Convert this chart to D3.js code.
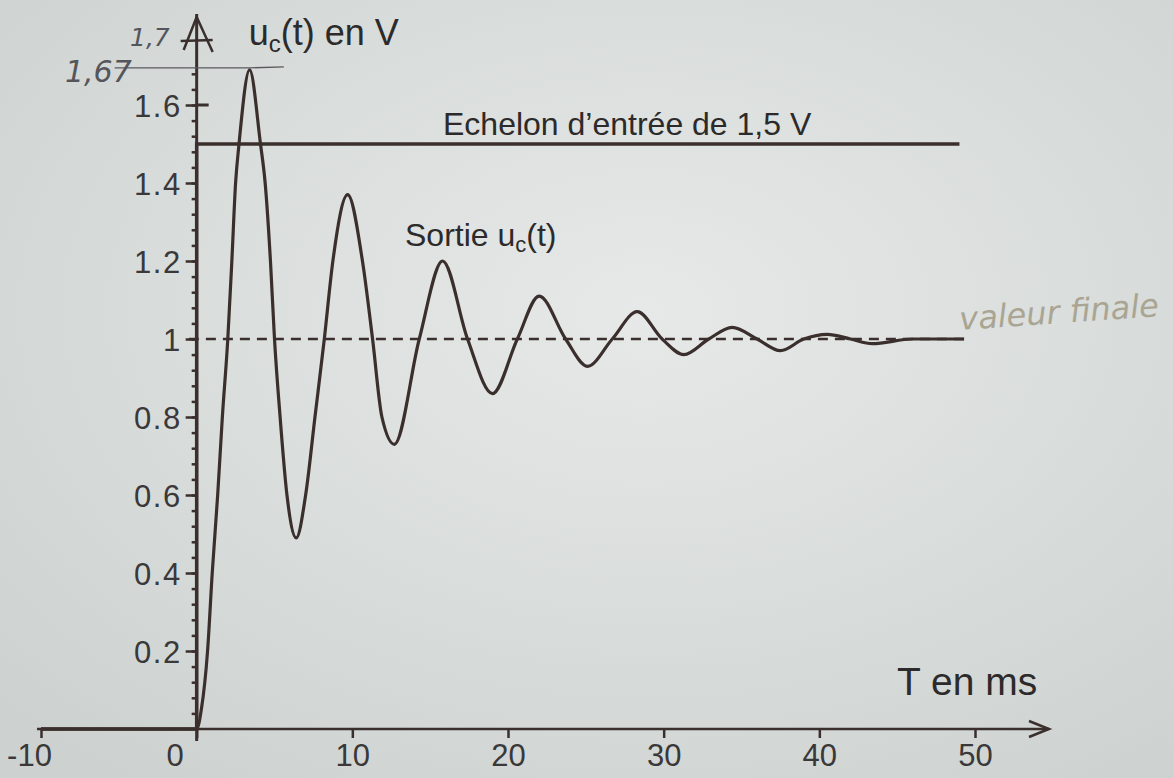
<!DOCTYPE html>
<html>
<head>
<meta charset="utf-8">
<script src="https://cdn.jsdelivr.net/npm/d3@7/dist/d3.min.js"></script>
<style>
  html, body { margin: 0; padding: 0; background: #d9dddc; }
  svg { display: block; }
  .tick text { font-family: "Liberation Sans Narrow", "Liberation Sans", Arial, sans-serif; fill: #3a3838; }
  .lbl { font-family: "Liberation Sans", Arial, sans-serif; fill: #2c2a2a; }
  .hand { font-family: "DejaVu Sans", sans-serif; font-style: italic; }
</style>
</head>
<body>
<svg id="chart" width="1173" height="778"></svg>
<script>
// time axis (ms)
const xTicks = [-10, 0, 10, 20, 30, 40, 50]
const xTickLabels = ["-10", "0", "10", "20", "30", "40", "50"]
// voltage axis (V)
const yMajor = [0.2, 0.4, 0.6, 0.8, 1, 1.2, 1.4, 1.6]
const yMajorLabels = ["0.2", "0.4", "0.6", "0.8", "1", "1.2", "1.4", "1.6"]
const yMinor = d3.range(1, 43).map(i => +(i * 0.04).toFixed(2))

// output uc(t)
const tValues = [-10, 0, 0.3, 0.7, 1.0, 1.35, 1.65, 2.0, 2.26, 2.5, 2.72, 3.4, 4.1, 4.4, 4.74, 5.0, 5.36, 5.8, 6.4, 7.0, 7.6, 8.2, 8.75, 9.7, 10.65, 11.3, 11.9, 12.7, 14.3, 15.8, 17.4, 19.0, 20.6, 22.0, 23.7, 25.1, 26.7, 28.3, 29.9, 31.3, 32.9, 34.4, 36.0, 37.5, 39.0, 40.5, 42.0, 43.4, 46.0, 49.3]
const uValues = [0, 0, 0.05, 0.2, 0.4, 0.6, 0.8, 1.0, 1.2, 1.4, 1.5, 1.69, 1.5, 1.4, 1.2, 1.0, 0.8, 0.6, 0.49, 0.6, 0.8, 1.0, 1.2, 1.37, 1.2, 1.0, 0.8, 0.73, 1.0, 1.2, 1.0, 0.86, 1.0, 1.11, 1.0, 0.93, 1.0, 1.07, 1.0, 0.96, 1.0, 1.03, 1.0, 0.97, 1.0, 1.012, 1.0, 0.988, 1.0, 1.0]

// input step of 1.5 V and final value
const stepT = [-10, 0, 0, 49]
const stepU = [0, 0, 1.5, 1.5]
const finalT = [-0.5, 49.5]
const finalU = [1, 1]
const peakValue = 1.69

const ink = "#3a2f2d"
const svg = d3.select("#chart")

// paper background
const defs = svg.append("defs")
const grad = defs.append("radialGradient").attr("id", "paper")
    .attr("cx", "55%").attr("cy", "40%").attr("r", "75%")
grad.append("stop").attr("offset", "0%").attr("stop-color", "#e6e9e8")
grad.append("stop").attr("offset", "100%").attr("stop-color", "#cdd2d1")
svg.append("rect").attr("width", 1173).attr("height", 778).attr("fill", "url(#paper)")

const x = d3.scaleLinear().domain([-10, 50]).range([41, 975])
const y = d3.scaleLinear().domain([0, 1.7]).range([729, 66])

// y axis ticks
const yMinorAxis = svg.append("g")
    .attr("transform", `translate(${x(0)},0)`)
    .call(d3.axisLeft(y).tickValues(yMinor).tickSize(5).tickFormat(""))
yMinorAxis.select(".domain").remove()
yMinorAxis.selectAll("line").attr("stroke", ink).attr("stroke-width", 2.5)

const yAxis = svg.append("g")
    .attr("transform", `translate(${x(0)},0)`)
    .call(d3.axisLeft(y).tickValues(yMajor).tickSize(11).tickPadding(4)
        .tickFormat((d, i) => yMajorLabels[i]))
yAxis.select(".domain").remove()
yAxis.selectAll("line").attr("stroke", ink).attr("stroke-width", 2.5)
yAxis.selectAll("text").attr("font-size", 31).attr("dy", "0.36em").attr("letter-spacing", 1.5)

// x axis ticks
const xAxis = svg.append("g")
    .attr("transform", `translate(0,${y(0)})`)
    .call(d3.axisBottom(x).tickValues(xTicks).tickSize(9).tickPadding(6)
        .tickFormat((d, i) => xTickLabels[i]))
xAxis.select(".domain").remove()
xAxis.selectAll("line").attr("stroke", ink).attr("stroke-width", 2.5)
xAxis.selectAll("text").attr("font-size", 31)
    .attr("dx", d => d === 0 ? -22 : (d === -10 ? -12 : 0))

// axis lines with arrows
const yTop = y(1.7) - 52
svg.append("line")
    .attr("x1", x(0)).attr("x2", x(0))
    .attr("y1", y(0) + 12).attr("y2", yTop)
    .attr("stroke", ink).attr("stroke-width", 3)
svg.append("path")
    .attr("d", `M${x(0) - 13},${yTop + 36} L${x(0)},${yTop + 3} L${x(0) + 16},${yTop + 38}`)
    .attr("fill", "none").attr("stroke", ink).attr("stroke-width", 2.5)
svg.append("path")
    .attr("d", `M${x(0) - 16},${yTop + 27} L${x(0) + 16},${yTop + 26}`)
    .attr("fill", "none").attr("stroke", ink).attr("stroke-width", 2.5)
// small mark to the right of the 1.6 tick
svg.append("line")
    .attr("x1", x(0)).attr("x2", x(0) + 12)
    .attr("y1", y(1.6)).attr("y2", y(1.6))
    .attr("stroke", ink).attr("stroke-width", 3)

const xEnd = x(50) + 74
svg.append("line")
    .attr("x1", x(-10) - 4).attr("x2", xEnd)
    .attr("y1", y(0)).attr("y2", y(0))
    .attr("stroke", ink).attr("stroke-width", 2.5)
svg.append("path")
    .attr("d", `M${xEnd - 20},${y(0) - 8} L${xEnd},${y(0)} L${xEnd - 20},${y(0) + 8}`)
    .attr("fill", "none").attr("stroke", ink).attr("stroke-width", 2.5)

// final value (dashed)
svg.append("path")
    .datum(d3.zip(finalT, finalU))
    .attr("d", d3.line().x(d => x(d[0])).y(d => y(d[1])))
    .attr("fill", "none").attr("stroke", ink).attr("stroke-width", 2.5)
    .attr("stroke-dasharray", "10,7")

// input step
svg.append("path")
    .datum(d3.zip(stepT, stepU))
    .attr("d", d3.line().x(d => x(d[0])).y(d => y(d[1])))
    .attr("fill", "none").attr("stroke", ink).attr("stroke-width", 3.5)

// output curve
svg.append("path")
    .datum(d3.zip(tValues, uValues))
    .attr("d", d3.line().x(d => x(d[0])).y(d => y(d[1])).curve(d3.curveMonotoneX))
    .attr("fill", "none").attr("stroke", ink).attr("stroke-width", 3.2)
    .attr("stroke-linejoin", "round")

// printed labels
const title = svg.append("text").attr("class", "lbl").attr("x", x(0) + 52).attr("y", 45).attr("font-size", 36)
title.append("tspan").text("u")
title.append("tspan").attr("font-size", 24).attr("dy", 7).text("c")
title.append("tspan").attr("dy", -7).text("(t) en V")

svg.append("text").attr("class", "lbl").attr("x", 443).attr("y", 135).attr("font-size", 32)
    .text("Echelon d\u2019entrée de 1,5 V")

const sortie = svg.append("text").attr("class", "lbl").attr("x", 405).attr("y", 246).attr("font-size", 32)
sortie.append("tspan").text("Sortie u")
sortie.append("tspan").attr("font-size", 22).attr("dy", 6).text("c")
sortie.append("tspan").attr("dy", -6).text("(t)")

svg.append("text").attr("class", "lbl").attr("x", 897).attr("y", 695).attr("font-size", 39)
    .text("T en ms")

// handwritten notes
svg.append("path")
    .attr("d", `M${x(0) - 82},${y(peakValue) - 2} L${x(3.4)},${y(peakValue) - 2} L${x(5.6)},${y(peakValue) - 3}`)
    .attr("fill", "none").attr("stroke", "#5a5a5e").attr("stroke-width", 1.3)
svg.append("text").attr("class", "hand").attr("x", 65).attr("y", 82).attr("font-size", 30)
    .attr("fill", "#55565b").text("1,67")
svg.append("text").attr("class", "hand").attr("x", 130).attr("y", 46).attr("font-size", 25)
    .attr("fill", "#55565b").text("1,7")
svg.append("text").attr("class", "hand").attr("x", 960).attr("y", 330).attr("font-size", 32)
    .attr("fill", "#aaa592").attr("transform", "rotate(-4,960,330)").text("valeur finale")
</script>
</body>
</html>
